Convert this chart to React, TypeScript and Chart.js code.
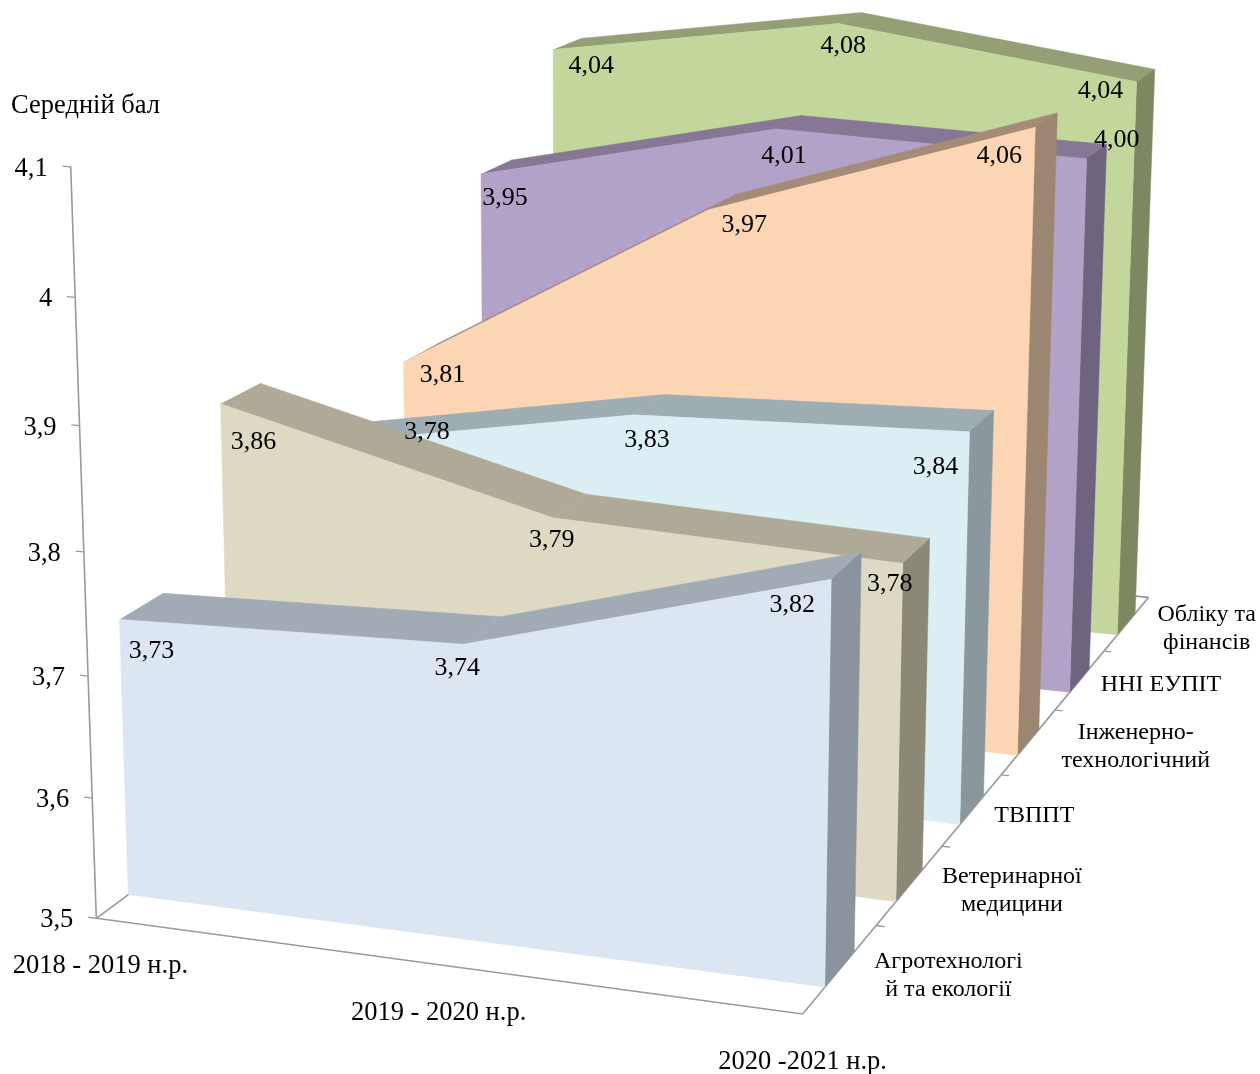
import React, { useEffect, useRef } from "react";
import { Chart, registerables } from "chart.js";
Chart.register(...registerables);

// ---- data ----
const years = ["2018 - 2019 н.р.", "2019 - 2020 н.р.", "2020 -2021 н.р."];
const seriesNames = [
  ["Агротехнологі", "й та екології"],
  ["Ветеринарної", "медицини"],
  ["ТВППТ"],
  ["Інженерно-", "технологічний"],
  ["ННІ ЕУПІТ"],
  ["Обліку та", "фінансів"],
];
const agro = [3.73, 3.74, 3.82];
const vet = [3.86, 3.79, 3.78];
const tvppt = [3.78, 3.83, 3.84];
const eng = [3.81, 3.97, 4.06];
const eupit = [3.95, 4.01, 4.0];
const fin = [4.04, 4.08, 4.04];
const seriesVals = [agro, vet, tvppt, eng, eupit, fin];
const valueTicks = [3.5, 3.6, 3.7, 3.8, 3.9, 4.0, 4.1];
const valueTickLabels = ["3,5", "3,6", "3,7", "3,8", "3,9", "4", "4,1"];
const axisTitle = "Середній бал";

// ---- styles & camera ----
const faceColors = [
  ["#dce6f2", "#a2abb5", "#8b949d"],
  ["#ddd9c3", "#aeaa97", "#8b8875"],
  ["#dbeef4", "#9dadb2", "#8a979c"],
  ["#fcd5b5", "#a58b77", "#9d8671"],
  ["#b3a2c7", "#857795", "#6f6480"],
  ["#c3d69b", "#949f76", "#7d8863"],
];
const CAMERA = [
  96.316, 658.326, -29.04, 701.344,
  918.326, 35.068, -759.691, -196.113,
  -0.05977, -0.0488, 0.32744,
];
const VMIN = 3.5;
const VMAX = 4.1;
const DEPTH_FRONT = 0.29;
const DEPTH_BACK = 0.69;
const AXIS_COLOR = "#9a9a9a";
const FONT = '"Liberation Serif", "Times New Roman", serif';
const TEXT_DY = 2;
const labelOffsets = [
  [[32, 30], [-6, 22], [-39, 24]],
  [[33, 36], [-1, 20], [-13, 19]],
  [[109, -13], [13, 23], [-34, 33]],
  [[39, 11], [36, 13], [-36, 27]],
  [[24, 22], [8, 25], [30, -21]],
  [[38, 15], [5, 21], [-36, 8]],
];
const seriesLabelOffsets = [[108, 5], [102, 4], [62, 4], [107, 3], [81, 3], [80, 3]];
const yearLabelOffsets = [[4, 46], [0, 46], [0, 46]];

const project = (u: number, val: number, w: number) => {
  const M = CAMERA;
  const v = (val - VMIN) / (VMAX - VMIN);
  const d = 1 + M[8] * u + M[9] * v + M[10] * w;
  return { x: (M[0] + M[1] * u + M[2] * v + M[3] * w) / d, y: (M[4] + M[5] * u + M[6] * v + M[7] * w) / d };
};
const fmt = (v: number) => v.toFixed(2).replace(".", ",");

function poly(pts: { x: number; y: number }[], color: string) {
  return { data: pts, borderColor: color, borderWidth: 0.5, pointRadius: 0, fill: false, tension: 0, polyFill: color, clip: false } as any;
}
function segment(a: { x: number; y: number }, b: { x: number; y: number }, width: number) {
  return { data: [a, b], borderColor: AXIS_COLOR, borderWidth: width, pointRadius: 0, fill: false, tension: 0, clip: false } as any;
}

const polyPlugin = {
  id: "polyFill",
  beforeDatasetDraw(chart: any, a: any) {
    const ds = chart.data.datasets[a.index];
    if (!ds.polyFill) return;
    const c = chart.ctx;
    c.save();
    c.fillStyle = ds.polyFill;
    c.beginPath();
    a.meta.data.forEach((e: any, i: number) => (i ? c.lineTo(e.x, e.y) : c.moveTo(e.x, e.y)));
    c.closePath();
    c.fill();
    c.restore();
  },
};

const textPlugin = {
  id: "texts",
  afterDraw(chart: any) {
    const c = chart.ctx;
    const sx = chart.scales.x;
    const sy = chart.scales.y;
    const put = (txt: string, p: { x: number; y: number }, dx: number, dy: number, align: CanvasTextAlign = "center") => {
      c.textAlign = align;
      c.fillText(txt, sx.getPixelForValue(p.x) + dx, sy.getPixelForValue(p.y) + dy + TEXT_DY);
    };
    c.save();
    c.fillStyle = "#000";
    c.textBaseline = "middle";
    c.font = `26.5px ${FONT}`;
    put(axisTitle, { x: 85.5, y: 104 }, 0, 0);
    valueTicks.forEach((t, i) => put(valueTickLabels[i], project(0, t, 0), -23, 0, "right"));
    years.forEach((y, i) => put(y, project(i / 2, VMIN, 0), yearLabelOffsets[i][0], yearLabelOffsets[i][1]));
    c.font = `24px ${FONT}`;
    seriesNames.forEach((lines, k) => {
      const anchor = project(1, VMIN, (k + 0.5) / 6);
      const [dx, dy] = seriesLabelOffsets[k];
      lines.forEach((ln, i) => put(ln, anchor, dx, dy + (i - (lines.length - 1) / 2) * 28));
    });
    c.font = `26px ${FONT}`;
    seriesVals.forEach((vals, k) => {
      const w = (k + DEPTH_FRONT) / 6;
      vals.forEach((v, i) => {
        const [dx, dy] = labelOffsets[k][i];
        put(fmt(v), project(i / 2, v, w), dx, dy);
      });
    });
    c.restore();
  },
};

export default function App() {
  const ref = useRef<HTMLCanvasElement>(null);
  useEffect(() => {
    const ds: any[] = [];
    seriesVals.forEach((vals, k) => {
      const f = (k + DEPTH_FRONT) / 6;
      const b = (k + DEPTH_BACK) / 6;
      const [cf, ct, cs] = faceColors[k];
      ds.push(poly([project(0, VMIN, f), project(0, vals[0], f), project(0.5, vals[1], f), project(1, vals[2], f), project(1, VMIN, f)], cf));
      ds.push(poly([project(1, VMIN, f), project(1, vals[2], f), project(1, vals[2], b), project(1, VMIN, b)], cs));
      ds.push(poly([project(0.5, vals[1], f), project(1, vals[2], f), project(1, vals[2], b), project(0.5, vals[1], b)], ct));
      ds.push(poly([project(0, vals[0], f), project(0.5, vals[1], f), project(0.5, vals[1], b), project(0, vals[0], b)], ct));
    });
    // floor outline, value axis and tick marks sit behind every series
    ds.push(segment(project(0, VMIN, 0), project(1, VMIN, 0), 1.6));
    ds.push(segment(project(1, VMIN, 0), project(1, VMIN, 1), 1.6));
    ds.push(segment(project(1, VMIN, 1), project(0, VMIN, 1), 1.6));
    ds.push(segment(project(0, VMIN, 1), project(0, VMIN, 0), 1.6));
    ds.push(segment(project(0, VMIN, 0), project(0, VMAX, 0), 1.6));
    valueTicks.forEach((t) => ds.push(segment(project(-0.012, t, 0), project(0, t, 0), 1.3)));
    for (let k = 1; k < 6; k++) ds.push(segment(project(1, VMIN, k / 6), project(1.012, VMIN, k / 6), 1.3));

    const ch = new Chart(ref.current!, {
      type: "line",
      data: { datasets: ds },
      plugins: [polyPlugin, textPlugin],
      options: {
        animation: false,
        responsive: false,
        events: [],
        layout: { padding: 0 },
        plugins: { legend: { display: false }, tooltip: { enabled: false } },
        scales: {
          x: { type: "linear", min: 0, max: 1260, display: false },
          y: { type: "linear", min: 0, max: 1074, reverse: true, display: false },
        },
      },
    } as any);
    return () => ch.destroy();
  }, []);
  return (
    <div>
      <canvas ref={ref} width={1260} height={1074} style={{ position: "absolute", left: 0, top: 0, display: "block" }} />
    </div>
  );
}
